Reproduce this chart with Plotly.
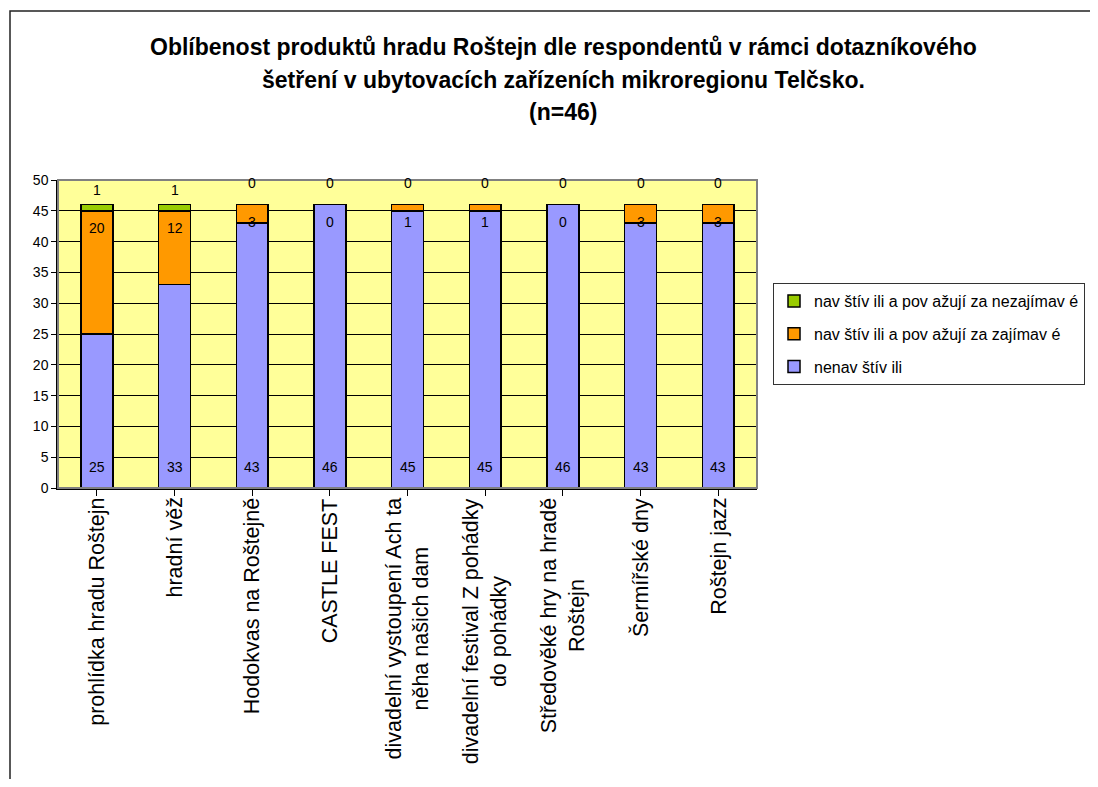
import plotly.graph_objects as go

categories = [
    "prohlídka hradu Roštejn",
    "hradní věž",
    "Hodokvas na Roštejně",
    "CASTLE FEST",
    "divadelní vystoupení Ach ta<br>něha našich dam",
    "divadelní festival Z pohádky<br>do pohádky",
    "Středověké hry na hradě<br>Roštejn",
    "Šermířské dny",
    "Roštejn jazz",
]
nenavstivili = [25, 33, 43, 46, 45, 45, 46, 43, 43]
zajimave = [20, 12, 3, 0, 1, 1, 0, 3, 3]
nezajimave = [1, 1, 0, 0, 0, 0, 0, 0, 0]

series_names = [
    "nenav štív ili",
    "nav štív ili a pov ažují za zajímav é",
    "nav štív ili a pov ažují za nezajímav é",
]
colors = ["#9999FF", "#FF9900", "#99CC00"]
title_lines = [
    "Oblíbenost produktů hradu Roštejn dle respondentů v rámci dotazníkového",
    "šetření v ubytovacích zařízeních mikroregionu Telčsko.",
    "(n=46)",
]

FONT = "Liberation Sans, Arial, sans-serif"
OFF = 8  # page body margin
W, H = 1098 - 2 * OFF, 787 - 2 * OFF
# screen-pixel layout of the plot area
L, R, T, B = 58, 757, 180, 488
pw, ph = R - L, B - T


def px(xs):
    return (xs - L) / pw


def py(ys):
    return (B - ys) / ph


x_idx = list(range(len(categories)))

fig = go.Figure()
ranks = [3, 2, 1]
for i, (vals, name, col) in enumerate(zip([nenavstivili, zajimave, nezajimave], series_names, colors)):
    fig.add_trace(go.Bar(
        x=x_idx, y=vals, name=name, legendgroup=str(i), legendrank=ranks[i],
        marker=dict(color=col, line=dict(color="black", width=1.5)),
        width=0.41, hoverinfo="y+name",
    ))

annotations = []
LBL = dict(family=FONT, size=14, color="black")
for j in x_idx:
    annotations.append(dict(x=j, y=0, xref="x", yref="y", text=str(nenavstivili[j]),
                            showarrow=False, yanchor="middle", yshift=21, font=LBL))
    top_o = nenavstivili[j] + zajimave[j]
    annotations.append(dict(x=j, y=top_o, xref="x", yref="y", text=str(zajimave[j]),
                            showarrow=False, yanchor="middle", yshift=-17, font=LBL))
    top_g = top_o + nezajimave[j]
    annotations.append(dict(x=j, y=top_g, xref="x", yref="y", text=str(nezajimave[j]),
                            showarrow=False, yanchor="middle",
                            yshift=15 if nezajimave[j] else 22, font=LBL))
for j, c in enumerate(categories):
    annotations.append(dict(x=j, y=0, xref="x", yref="paper", text=c, textangle=-90,
                            showarrow=False, xanchor="center", yanchor="top", yshift=-8,
                            align="center",
                            font=dict(family=FONT, size=21.5, color="black")))
for line, ys in zip(title_lines, [47, 80, 112]):
    annotations.append(dict(x=px(563), y=py(ys), xref="paper", yref="paper",
                            text="<b>" + line + "</b>", showarrow=False,
                            xanchor="center", yanchor="middle",
                            font=dict(family=FONT, size=23, color="black")))

shapes = [
    dict(type="rect", xref="paper", yref="paper", x0=0, x1=1, y0=0, y1=1,
         line=dict(color="#808080", width=2), layer="above"),
    dict(type="rect", xref="paper", yref="paper",
         x0=px(10), x1=px(1200), y0=py(900), y1=py(11),
         line=dict(color="#222222", width=1.5), layer="below"),
]

fig.update_layout(
    width=W, height=H,
    margin=dict(l=L - OFF, r=W - (R - OFF), t=T - OFF, b=H - (B - OFF)),
    barmode="stack",
    paper_bgcolor="white",
    plot_bgcolor="#FFFF99",
    font=dict(family=FONT, size=14, color="black"),
    showlegend=True,
    legend=dict(
        xref="container", x=(773 - OFF) / W, y=py(283), xanchor="left", yanchor="top",
        traceorder="grouped", tracegroupgap=9,
        bordercolor="#333333", borderwidth=1, bgcolor="white",
        font=dict(family=FONT, size=16, color="black"),
    ),
    annotations=annotations,
    shapes=shapes,
    xaxis=dict(
        range=[-0.5, len(categories) - 0.5], tickmode="array", tickvals=x_idx,
        tickson="boundaries", ticks="outside", ticklen=6, tickcolor="black",
        showticklabels=False, showgrid=False, showline=True, linecolor="black",
        linewidth=1.5, zeroline=False,
    ),
    yaxis=dict(
        range=[0, 50], dtick=5, ticks="outside", ticklen=5, tickcolor="black",
        showgrid=True, gridcolor="black", gridwidth=1, showline=True,
        linecolor="black", linewidth=1.5, zeroline=False,
        tickfont=dict(family=FONT, size=14, color="black"),
    ),
)

fig.write_html("out.html")
